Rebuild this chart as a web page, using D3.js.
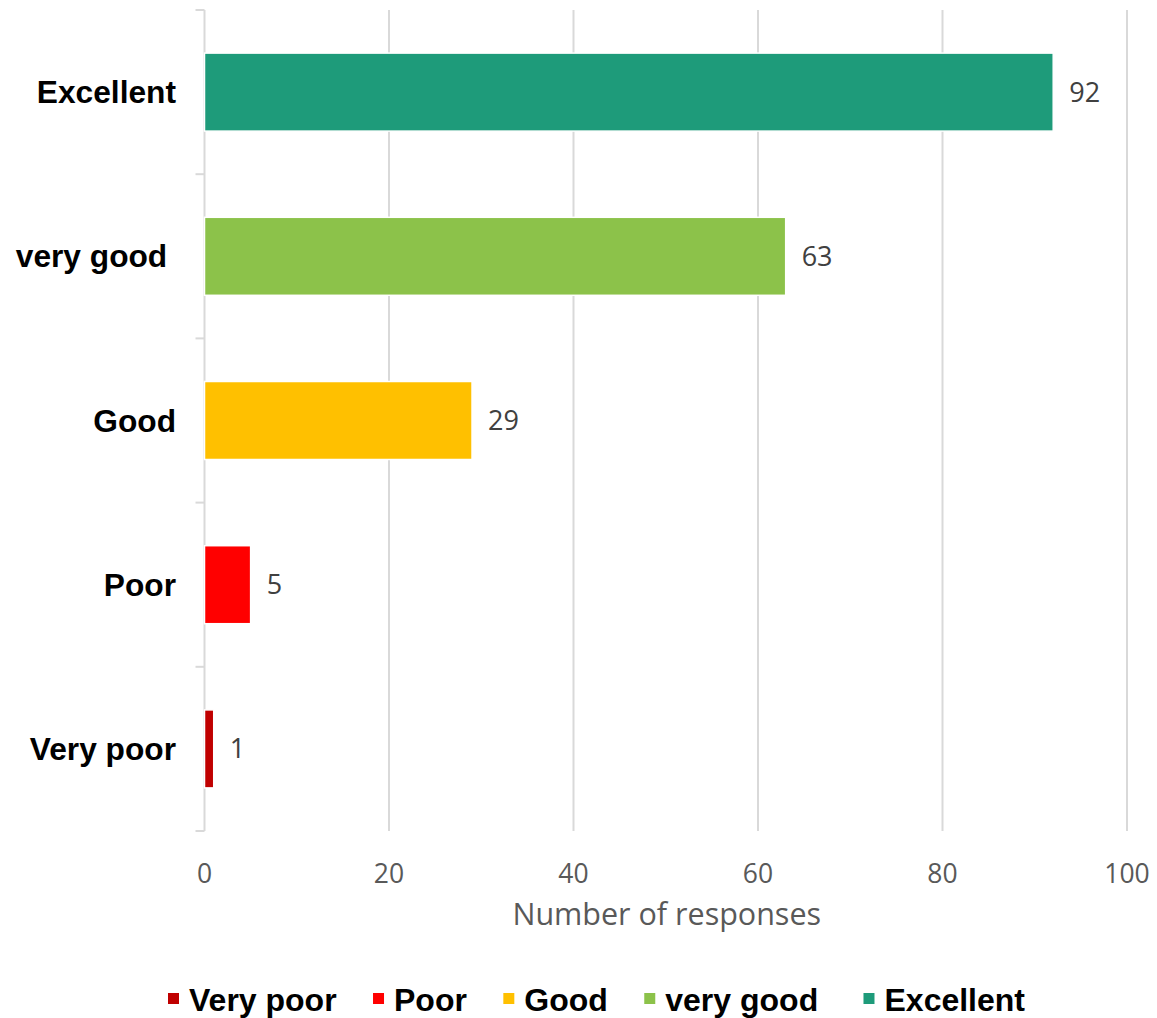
<!DOCTYPE html>
<html>
<head>
<meta charset="utf-8">
<script src="https://cdn.jsdelivr.net/npm/d3@7/dist/d3.min.js"></script>
<style>
  html, body { margin: 0; padding: 0; background: #fff; }
  svg { display: block; }
  text { white-space: pre; }
  .tick-lbl { font-family: "Open Sans", "Noto Sans", sans-serif; fill: #595959; }
  .cat-lbl, .leg-lbl { font-family: "Liberation Sans", Arial, sans-serif; font-weight: bold; fill: #000; }
</style>
</head>
<body>
<svg id="chart" width="1157" height="1018"></svg>
<script>
// ---------- data ----------
var categories = ["Excellent", "very good ", "Good", "Poor", "Very poor"];
var responses = [92, 63, 29, 5, 1];
var barColors = ["#1e9b7a", "#8cc24a", "#ffc000", "#ff0000", "#c00000"];
var xTicks = [0, 20, 40, 60, 80, 100];
var legendOrder = ["Very poor", "Poor", "Good", "very good ", "Excellent"];
var axisTitle = "Number of responses";

var data = categories.map(function (c, i) { return { cat: c, val: responses[i], color: barColors[i] }; });
var colorOf = {}; data.forEach(function (d) { colorOf[d.cat] = d.color; });

var svg = d3.select("#chart");
var x = d3.scaleLinear().domain([0, 100]).range([204.5, 1127]);
var y = d3.scaleBand().domain(categories).range([10, 831]).padding(0);
var barH = y.bandwidth() * 0.475;

// ---------- grid ----------
svg.append("g").selectAll("line").data(xTicks.slice(1)).enter().append("line")
  .attr("x1", function (d) { return x(d); }).attr("x2", function (d) { return x(d); })
  .attr("y1", 10).attr("y2", 831)
  .attr("stroke", "#d9d9d9").attr("stroke-width", 2);

// category axis line + ticks at band edges
var edges = categories.map(function (c) { return y(c); }).concat([831]);
svg.append("line").attr("x1", x(0)).attr("x2", x(0)).attr("y1", 10).attr("y2", 831)
  .attr("stroke", "#d9d9d9").attr("stroke-width", 2);
svg.append("g").selectAll("line").data(edges).enter().append("line")
  .attr("x1", x(0) - 9).attr("x2", x(0)).attr("y1", function (d) { return d; }).attr("y2", function (d) { return d; })
  .attr("stroke", "#d9d9d9").attr("stroke-width", 2);

// ---------- bars ----------
svg.append("g").selectAll("rect").data(data).enter().append("rect")
  .attr("x", x(0))
  .attr("y", function (d) { return y(d.cat) + (y.bandwidth() - barH) / 2; })
  .attr("width", function (d) { return x(d.val) - x(0); })
  .attr("height", barH)
  .attr("fill", function (d) { return d.color; })
  .attr("stroke", "#fff").attr("stroke-width", 1.5);

// value labels
svg.append("g").selectAll("text").data(data).enter().append("text")
  .attr("class", "tick-lbl")
  .attr("x", function (d) { return x(d.val) + 16; })
  .attr("y", function (d) { return y(d.cat) + y.bandwidth() / 2 + 9.5; })
  .attr("font-size", 27).style("fill", "#404040")
  .text(function (d) { return d.val; });

// category labels
svg.append("g").selectAll("text").data(categories).enter().append("text")
  .attr("class", "cat-lbl")
  .attr("x", 176).attr("y", function (d) { return y(d) + y.bandwidth() / 2 + 11; })
  .attr("text-anchor", "end").attr("font-size", 31.7)
  .text(function (d) { return d; });

// x tick labels
svg.append("g").selectAll("text").data(xTicks).enter().append("text")
  .attr("class", "tick-lbl")
  .attr("x", function (d) { return x(d); }).attr("y", 883)
  .attr("text-anchor", "middle").attr("font-size", 26.5)
  .text(function (d) { return d; });

// axis title
svg.append("text").attr("class", "tick-lbl")
  .attr("x", (x(0) + x(100)) / 2 + 1).attr("y", 925)
  .attr("text-anchor", "middle").attr("font-size", 30.5)
  .text(axisTitle);

// ---------- legend ----------
var leg = svg.append("g");
var groups = [], total = 0;
legendOrder.forEach(function (name) {
  var g = leg.append("g");
  g.append("rect").attr("x", 0).attr("y", -18).attr("width", 11).attr("height", 11).attr("fill", colorOf[name]);
  var t = g.append("text").attr("class", "leg-lbl").attr("x", 21).attr("y", 0).attr("font-size", 32).text(name);
  var w = 21 + t.node().getComputedTextLength();
  groups.push({ g: g, w: w }); total += w;
});
var legLeft = 168, legRight = 1025;
var gap = (legRight - legLeft - total) / (groups.length - 1);
var cx = legLeft;
groups.forEach(function (it) { it.g.attr("transform", "translate(" + cx + ",0)"); cx += it.w + gap; });
leg.attr("transform", "translate(0,1011)");
</script>
</body>
</html>
